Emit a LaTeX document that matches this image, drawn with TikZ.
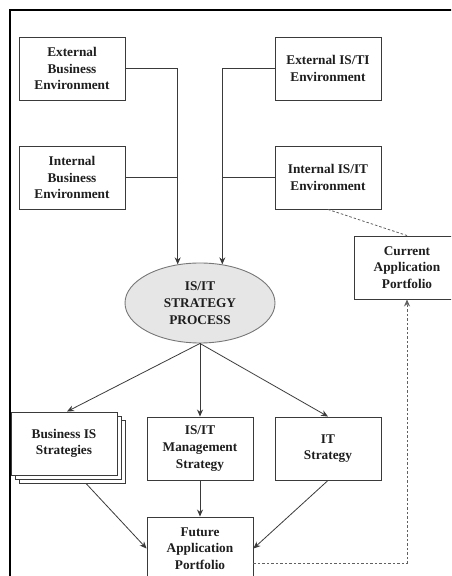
\documentclass[tikz,border=0pt]{standalone}
\usepackage{fontspec}
\setmainfont{Liberation Serif}
\usetikzlibrary{shapes.geometric,arrows.meta,shadows}
\definecolor{boxline}{HTML}{3A3A3A}
\definecolor{txt}{HTML}{1E1E1E}
\definecolor{ellfill}{HTML}{E6E6E6}
\definecolor{ellline}{HTML}{777777}
\begin{document}
\begin{tikzpicture}[x=1pt,y=1pt,
  lbl/.style={font=\fontsize{13.3}{16.7}\selectfont\bfseries, text=txt, align=center},
  box/.style={lbl, draw=boxline, line width=0.9pt, fill=white, minimum width=106pt, minimum height=63pt, inner sep=0pt},
  proc/.style={lbl, ellipse, draw=ellline, line width=0.9pt, fill=ellfill, minimum width=150pt, minimum height=80pt, inner sep=0pt},
  arr/.style={draw=boxline, line width=0.8pt, -{Stealth[length=7pt,width=6pt]}},
  ln/.style={draw=boxline, line width=0.8pt},
  dsh/.style={draw=boxline!80, line width=0.8pt, dash pattern=on 2.5pt off 2pt}
]
\useasboundingbox (0,0) rectangle (451,576);
\clip (0,0) rectangle (451,576);
\draw[line width=2pt, black] (10,-20) rectangle (480,566);

\node[box] (ebe) at (72,507.5) {External\\Business\\Environment};
\node[box] (eis) at (328,507.5) {External IS/TI\\Environment};
\node[box] (ibe) at (72,398.5) {Internal\\Business\\Environment};
\node[box] (iis) at (328,398.5) {Internal IS/IT\\Environment};
\node[box] (cap) at (407,308.5) {Current\\Application\\Portfolio};
\node[proc] (ell) at (200,273) {IS/IT\\STRATEGY\\PROCESS};
\node[box, general shadow={shadow xshift=8pt, shadow yshift=-8pt, draw=boxline, line width=0.9pt, fill=white},
  general shadow={shadow xshift=4pt, shadow yshift=-4pt, draw=boxline, line width=0.9pt, fill=white}]
  (bis) at (64,132.5) {Business IS\\Strategies};
\node[box] (mgmt) at (200,127.5) {IS/IT\\Management\\Strategy};
\node[box] (its) at (328,127.5) {IT\\Strategy};
\node[box] (fap) at (200,27.5) {Future\\Application\\Portfolio};

\draw[arr] (ebe.east) -| (ell.120);
\draw[ln] (ibe.east) -- (ibe.east -| ell.120);
\draw[arr] (eis.west) -| (ell.60);
\draw[ln] (iis.west) -- (iis.west -| ell.60);

\draw[dsh] (iis.south) -- (cap.north);
\draw[dsh, -{Stealth[length=7pt,width=6pt]}] ([yshift=-14.5pt]fap.east) -| (cap.south);

\draw[arr] (ell.south) -- ([xshift=3pt]bis.north);
\draw[arr] (ell.south) -- (mgmt.north);
\draw[arr] (ell.south) -- (its.north);

\draw[arr] ([xshift=22pt,yshift=-8pt]bis.south) -- (fap.west);
\draw[arr] (mgmt.south) -- (fap.north);
\draw[arr] (its.south) -- (fap.east);
\end{tikzpicture}
\end{document}
